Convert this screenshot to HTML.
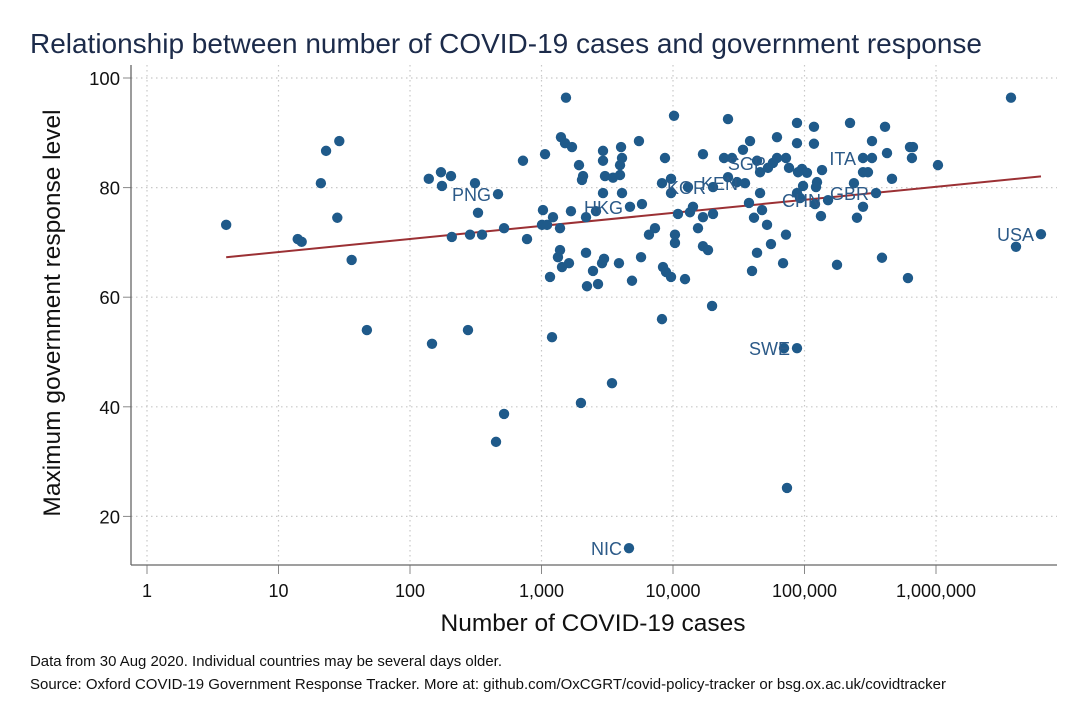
<!DOCTYPE html>
<html><head><meta charset="utf-8"><style>
body{margin:0;background:#fff;font-family:"Liberation Sans",Arial,sans-serif}
svg{display:block}
</style></head><body>
<svg id="c" width="1083" height="722" xmlns="http://www.w3.org/2000/svg">
<rect width="1083" height="722" fill="#fff"/>
<text x="30" y="53" font-size="28" textLength="952" lengthAdjust="spacingAndGlyphs" fill="#1c2b4a">Relationship between number of COVID-19 cases and government response</text>
<g id="grid"></g><g id="axes"></g><g id="fit"></g><g id="pts"></g><g id="lbls"></g>
<text transform="translate(60,313) rotate(-90)" text-anchor="middle" font-size="24.5" fill="#111">Maximum government response level</text>
<text x="593" y="631" text-anchor="middle" font-size="24.5" fill="#111">Number of COVID-19 cases</text>
<text x="30" y="666" font-size="14.5" textLength="472" lengthAdjust="spacingAndGlyphs" fill="#111">Data from 30 Aug 2020. Individual countries may be several days older.</text>
<text x="30" y="689" font-size="14.5" textLength="916" lengthAdjust="spacingAndGlyphs" fill="#111">Source: Oxford COVID-19 Government Response Tracker. More at: github.com/OxCGRT/covid-policy-tracker or bsg.ox.ac.uk/covidtracker</text>
</svg>
<script>
const xTicks=[1,10,100,1000,10000,100000,1000000];
const xTickLabels=["1","10","100","1,000","10,000","100,000","1,000,000"];
const yTicks=[20,40,60,80,100];
const cases=[4,14,15,21,23,28,29,36,47,139,172,175,205,208,147,276,286,312,329,353,467,451,519,519,723,776,1064,1026,1223,1009,1102,1383,1161,1202,1334,1383,1432,1618,1535,1406,1510,1706,1675,1928,2070,2032,2180,2180,2218,1995,2464,2886,2988,2690,2596,2936,2936,3040,2936,3499,3955,4027,4095,3955,4095,3882,3436,4710,5808,4877,5715,5510,4627,8690,10180,8245,9660,9660,6565,7295,8395,8850,9660,8245,10350,10350,10910,13460,14190,12340,13000,16900,16900,20150,15490,16900,18460,19820,20150,26200,24430,26200,28100,30700,35300,34050,38530,43550,45920,52760,57550,61770,61770,72300,76250,87700,87700,37830,45920,47550,41300,51880,72300,55600,43550,68700,39900,89300,95700,104400,87700,92500,97500,118000,118000,124500,122300,120200,133400,135900,176700,221900,278600,326000,326000,278600,303800,237700,250600,278600,349900,388300,409600,424000,462600,634000,668000,656000,612000,1035000,3718000,4057000,6285000,69850,87700,73600,151000];
const response=[73.2,70.6,70.1,80.8,86.7,74.5,88.5,66.8,54.0,81.6,82.8,80.3,82.1,71.0,51.5,54.0,71.4,80.8,75.4,71.4,78.8,33.6,72.6,38.7,84.9,70.6,86.1,75.9,74.6,73.2,73.2,72.6,63.7,52.7,67.3,68.6,65.5,66.2,96.4,89.2,88.1,87.4,75.7,84.1,82.1,81.4,74.6,68.1,62.0,40.7,64.8,66.2,67.0,62.4,75.7,86.7,84.9,82.1,79.0,81.8,82.3,87.4,85.4,84.1,79.0,66.2,44.3,76.5,77.0,63.0,67.3,88.5,14.2,85.4,93.1,80.8,81.6,79.0,71.4,72.6,65.5,64.6,63.7,56.0,71.4,69.9,75.2,75.5,76.5,63.3,80.1,86.1,74.6,75.2,72.6,69.3,68.6,58.4,80.1,92.5,85.4,81.9,85.4,81.0,80.8,86.9,88.5,84.9,82.8,83.6,84.5,89.2,85.4,85.4,83.6,88.1,91.8,77.2,79.0,75.9,74.5,73.2,71.4,69.7,68.1,66.2,64.8,82.8,83.4,82.7,79.0,78.1,80.3,91.1,88.0,81.0,80.1,77.0,74.8,83.2,65.9,91.8,85.4,85.4,88.5,82.8,82.8,80.8,74.5,76.5,79.0,67.2,91.1,86.3,81.6,87.4,87.4,85.4,63.5,84.1,96.4,69.2,71.5,50.7,50.7,25.2,77.7];
const labelText=["PNG","HKG","KOR","KEN","SGP","CHN","ITA","GBR","USA","SWE","NIC"];
const labelIndex=[20,67,98,104,110,166,142,150,162,164,72];
const NS="http://www.w3.org/2000/svg";
const X0=147,DEC=131.5,Y0=78,YS=5.48;
function sx(v){return X0+Math.log10(v)*DEC;}
function sy(v){return Y0+(100-v)*YS;}
function mk(tag,at,parent){const e=document.createElementNS(NS,tag);for(const k in at)e.setAttribute(k,at[k]);parent.appendChild(e);return e;}
const grid=document.getElementById('grid'),axes=document.getElementById('axes');
const L=131,R=1057,T=65,B=565;
xTicks.forEach((t,i)=>{
  const x=sx(t);
  const g=mk('line',{x1:x,x2:x,y1:T,y2:B,stroke:'#c8c8c8','stroke-width':1.2,'stroke-dasharray':'1.5,3.5'},grid);
  
  
  const tk=mk('line',{x1:x,x2:x,y1:B,y2:B+9,stroke:'#888','stroke-width':1},axes);
  
  
  const tl=mk('text',{x:x,y:B+32,'text-anchor':'middle','font-size':18,fill:'#111'},axes);
  tl.textContent=xTickLabels[i];
  
  
});
yTicks.forEach(t=>{
  const y=sy(t);
  const g=mk('line',{x1:L,x2:R,y1:y,y2:y,stroke:'#c8c8c8','stroke-width':1.2,'stroke-dasharray':'1.5,3.5'},grid);
  
  
  const tk=mk('line',{x1:L-8,x2:L,y1:y,y2:y,stroke:'#888','stroke-width':1},axes);
  
  
  const tl=mk('text',{x:L-11,y:y+7,'text-anchor':'end','font-size':18.5,fill:'#111'},axes);
  tl.textContent=String(t);
  
  
});
const ya=mk('line',{x1:L,x2:L,y1:T,y2:B,stroke:'#666','stroke-width':1.3},axes);


const xa=mk('line',{x1:L,x2:R,y1:B,y2:B,stroke:'#666','stroke-width':1.3},axes);


let n=cases.length,mx=0,my=0;
for(let i=0;i<n;i++){mx+=Math.log10(cases[i]);my+=response[i];}
mx/=n;my/=n;let sxy=0,sxx=0;
for(let i=0;i<n;i++){const d=Math.log10(cases[i])-mx;sxy+=d*(response[i]-my);sxx+=d*d;}
const b=sxy/sxx,a=my-b*mx;
const cmin=Math.min(...cases),cmax=Math.max(...cases);
const fl=mk('line',{x1:sx(cmin),y1:sy(a+b*Math.log10(cmin)),x2:sx(cmax),y2:sy(a+b*Math.log10(cmax)),stroke:'#9b3034','stroke-width':2},document.getElementById('fit'));


const pts=document.getElementById('pts');
for(let i=0;i<n;i++){
  const c=mk('circle',{cx:sx(cases[i]),cy:sy(response[i]),r:5.2,fill:'#1f5a8a'},pts);
  
  
}
const lb=document.getElementById('lbls');
labelText.forEach((t,j)=>{
  const i=labelIndex[j];
  const e=mk('text',{x:sx(cases[i])-7,y:sy(response[i])+7,'text-anchor':'end','font-size':18,fill:'#2c5a88'},lb);
  e.textContent=t;
  
  
});
</script>
</body></html>
